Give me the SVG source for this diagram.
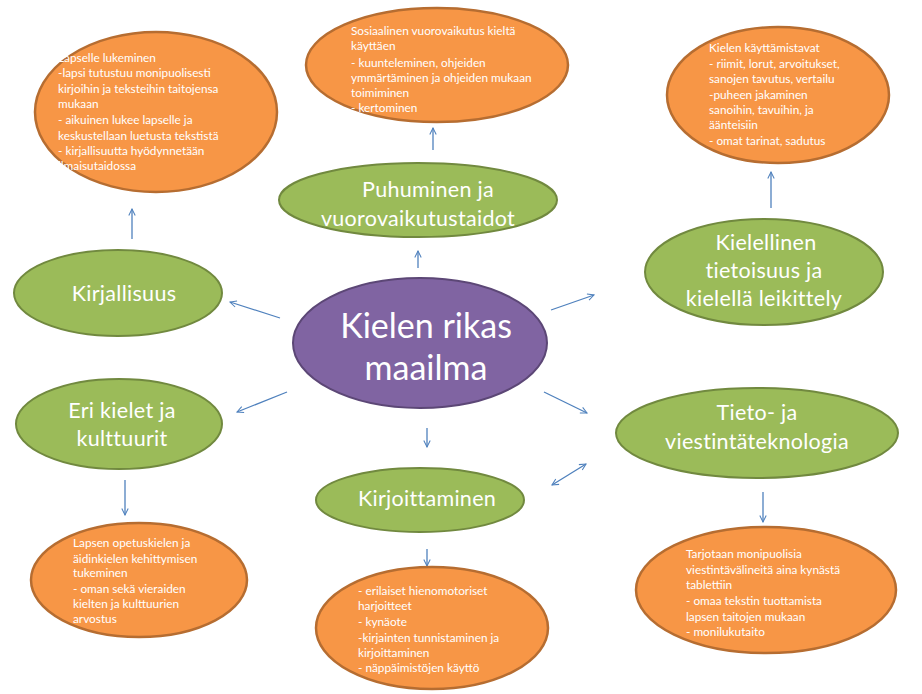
<svg xmlns="http://www.w3.org/2000/svg" width="922" height="694" viewBox="0 0 922 694">
<defs>
<style>
.c{fill:#8064A2;stroke:#5C4776;stroke-width:2}
.g{fill:#9BBB59;stroke:#71893F;stroke-width:2}
.o{fill:#F79646;stroke:#B66D31;stroke-width:2.5}
.gt{font-family:Lato,"Open Sans",sans-serif;font-size:21.5px;fill:#fff;text-anchor:middle;letter-spacing:0.3px}
.ct{font-family:Lato,"Open Sans",sans-serif;font-size:34px;fill:#fff;text-anchor:middle}
.ot{font-family:Lato,"Open Sans",sans-serif;font-size:11.8px;fill:#fff}
.a{stroke:#4F81BD;stroke-width:1.3;fill:none;marker-end:url(#ah)}
</style>
<marker id="ah" viewBox="0 0 10 10" refX="9" refY="5" markerWidth="8" markerHeight="8" orient="auto-start-reverse" markerUnits="userSpaceOnUse">
<path d="M1,1 L9,5 L1,9" fill="none" stroke="#4F81BD" stroke-width="1.3"/>
</marker>
</defs>
<rect width="922" height="694" fill="#fff"/>
<g id="connectors">
<line class="a" x1="280" y1="318" x2="230" y2="302"/>
<line class="a" x1="287" y1="392" x2="237" y2="412"/>
<line class="a" x1="418" y1="268" x2="418" y2="251"/>
<line class="a" x1="433" y1="150" x2="433" y2="128"/>
<line class="a" x1="132" y1="239" x2="132" y2="209"/>
<line class="a" x1="551" y1="310" x2="594" y2="295"/>
<line class="a" x1="544" y1="392" x2="587" y2="413"/>
<line class="a" x1="552" y1="485" x2="586" y2="464" style="marker-start:url(#ah)"/>
<line class="a" x1="771" y1="208" x2="771" y2="172"/>
<line class="a" x1="427" y1="428" x2="427" y2="447"/>
<line class="a" x1="427" y1="549" x2="427" y2="566"/>
<line class="a" x1="125" y1="480" x2="125" y2="515"/>
<line class="a" x1="763" y1="492" x2="763" y2="522"/>
</g>
<g id="n-center"><ellipse class="c" cx="420" cy="343" rx="127" ry="65"/><text class="ct" x="426" y="338">Kielen rikas</text><text class="ct" x="426" y="380">maailma</text></g>
<g id="n-kirjallisuus"><ellipse class="g" cx="118" cy="293" rx="104" ry="43"/><text class="gt" x="124" y="301">Kirjallisuus</text></g>
<g id="n-puhuminen"><ellipse class="g" cx="418" cy="200" rx="139" ry="37"/><text class="gt" x="428" y="197">Puhuminen ja</text><text class="gt" x="418" y="226">vuorovaikutustaidot</text></g>
<g id="n-kielellinen"><ellipse class="g" cx="764" cy="272" rx="119" ry="53"/><text class="gt" x="766" y="250">Kielellinen</text><text class="gt" x="764" y="278">tietoisuus ja</text><text class="gt" x="764" y="306">kielellä  leikittely</text></g>
<g id="n-erikielet"><ellipse class="g" cx="119" cy="424" rx="103" ry="45"/><text class="gt" x="122" y="418">Eri kielet ja</text><text class="gt" x="122" y="446">kulttuurit</text></g>
<g id="n-tieto"><ellipse class="g" cx="757" cy="433" rx="141" ry="45"/><text class="gt" x="757" y="420">Tieto- ja</text><text class="gt" x="757" y="449">viestintäteknologia</text></g>
<g id="n-kirjoittaminen"><ellipse class="g" cx="420" cy="500" rx="104" ry="32"/><text class="gt" x="427" y="506">Kirjoittaminen</text></g>
<g id="o-lukeminen"><ellipse class="o" cx="156" cy="112" rx="121" ry="80"/>
<text class="ot"><tspan x="58" y="62">Lapselle lukeminen</tspan><tspan x="58" y="77">-lapsi tutustuu monipuolisesti</tspan><tspan x="58" y="93">kirjoihin ja teksteihin taitojensa</tspan><tspan x="58" y="108">mukaan</tspan><tspan x="58" y="124">- aikuinen lukee lapselle ja</tspan><tspan x="58" y="140">keskustellaan luetusta tekstistä</tspan><tspan x="58" y="155">-  kirjallisuutta hyödynnetään</tspan><tspan x="58" y="170">ilmaisutaidossa</tspan></text></g>
<g id="o-sosiaalinen"><ellipse class="o" cx="437" cy="65" rx="131" ry="57"/>
<text class="ot"><tspan x="351" y="35">Sosiaalinen vuorovaikutus kieltä</tspan><tspan x="351" y="50">käyttäen</tspan><tspan x="351" y="67">- kuunteleminen, ohjeiden</tspan><tspan x="351" y="82">ymmärtäminen ja ohjeiden mukaan</tspan><tspan x="351" y="97">toimiminen</tspan><tspan x="351" y="112">- kertominen</tspan></text></g>
<g id="o-kaytto"><ellipse class="o" cx="778" cy="95" rx="111" ry="68"/>
<text class="ot"><tspan x="709" y="52">Kielen käyttämistavat</tspan><tspan x="709" y="68">- riimit, lorut, arvoitukset,</tspan><tspan x="709" y="83">sanojen tavutus, vertailu</tspan><tspan x="709" y="99">-puheen jakaminen</tspan><tspan x="709" y="114">sanoihin, tavuihin, ja</tspan><tspan x="709" y="129">äänteisiin</tspan><tspan x="709" y="145">- omat tarinat, sadutus</tspan></text></g>
<g id="o-opetuskieli"><ellipse class="o" cx="139" cy="580" rx="108" ry="57"/>
<text class="ot"><tspan x="73" y="547">Lapsen  opetuskielen  ja</tspan><tspan x="73" y="563">äidinkielen kehittymisen</tspan><tspan x="73" y="577">tukeminen</tspan><tspan x="73" y="593">- oman sekä vieraiden</tspan><tspan x="73" y="608">kielten ja kulttuurien</tspan><tspan x="73" y="623">arvostus</tspan></text></g>
<g id="o-hienomotoriset"><ellipse class="o" cx="432" cy="628" rx="116" ry="61"/>
<text class="ot"><tspan x="358" y="595">- erilaiset hienomotoriset</tspan><tspan x="358" y="610">harjoitteet</tspan><tspan x="358" y="626">- kynäote</tspan><tspan x="358" y="642">-kirjainten tunnistaminen ja</tspan><tspan x="358" y="657">kirjoittaminen</tspan><tspan x="358" y="672">- näppäimistöjen käyttö</tspan></text></g>
<g id="o-tarjotaan"><ellipse class="o" cx="766" cy="590" rx="130" ry="63"/>
<text class="ot"><tspan x="686" y="558">Tarjotaan monipuolisia</tspan><tspan x="686" y="574">viestintävälineitä aina kynästä</tspan><tspan x="686" y="589">tablettiin</tspan><tspan x="686" y="605">- omaa tekstin tuottamista</tspan><tspan x="686" y="621">lapsen taitojen mukaan</tspan><tspan x="686" y="636">- monilukutaito</tspan></text></g>
</svg>
